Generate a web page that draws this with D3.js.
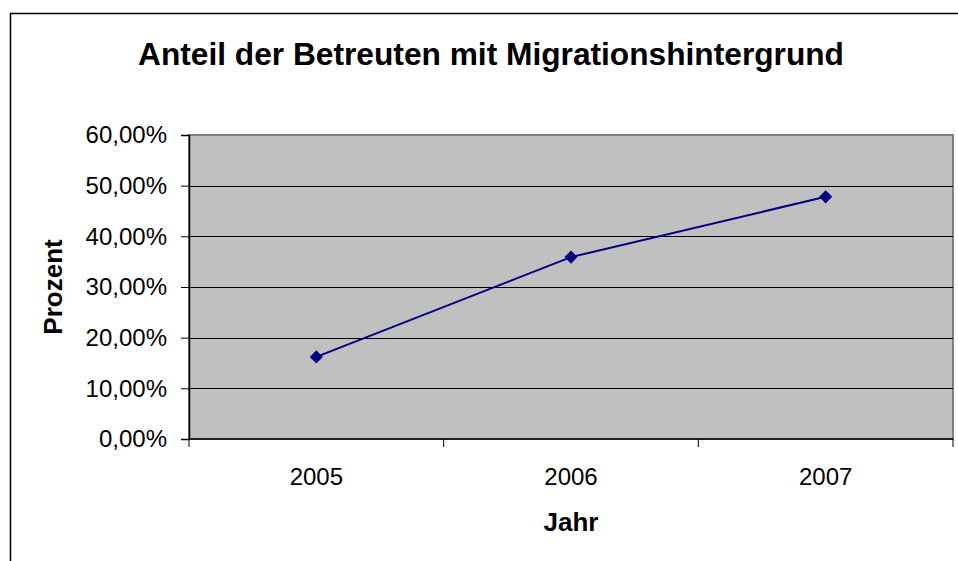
<!DOCTYPE html>
<html>
<head>
<meta charset="utf-8">
<script src="https://cdn.jsdelivr.net/npm/d3@7"></script>
<style>
  body { margin: 0; background: #fff; }
  svg { display: block; font-family: "Liberation Sans", Arial, sans-serif; }
</style>
</head>
<body>
<div class="canvas"></div>
<script>
const years = ["2005", "2006", "2007"];
const shares = [0.162, 0.359, 0.478];
const yTicks = [0, 0.1, 0.2, 0.3, 0.4, 0.5, 0.6];

const dims = {width: 958, height: 561};
const plot = {left: 189, top: 135, right: 953, bottom: 439};

const svg = d3.select(".canvas")
  .append("svg")
  .attr("width", dims.width)
  .attr("height", dims.height);

// outer chart frame (runs off the right and bottom edges)
svg.append("rect")
  .attr("x", 10.5).attr("y", 13.5)
  .attr("width", 1000).attr("height", 600)
  .attr("fill", "#fff").attr("stroke", "#000").attr("stroke-width", 1.5);

const x = d3.scaleBand().domain(years).range([plot.left, plot.right]);
const y = d3.scaleLinear().domain([0, 0.6]).range([plot.bottom, plot.top]);

// plot background
svg.append("rect")
  .attr("x", plot.left).attr("y", plot.top)
  .attr("width", plot.right - plot.left).attr("height", plot.bottom - plot.top)
  .attr("fill", "#c0c0c0")
  .attr("stroke", "#808080").attr("stroke-width", 2);

// gridlines
svg.append("g")
  .selectAll("line")
  .data(yTicks.filter(t => t > 0 && t < 0.6))
  .join("line")
  .attr("x1", plot.left).attr("x2", plot.right)
  .attr("y1", d => Math.round(y(d)) + 0.5).attr("y2", d => Math.round(y(d)) + 0.5)
  .attr("stroke", "#000").attr("stroke-width", 1);

const fmt = d => d3.format(".2f")(d * 100).replace(".", ",") + "%";

// y axis
const yAxis = svg.append("g")
  .attr("transform", `translate(${plot.left},0)`)
  .call(d3.axisLeft(y).tickValues(yTicks).tickFormat(fmt).tickSize(8).tickPadding(14));
yAxis.select(".domain").attr("stroke", "#000").attr("stroke-width", 1.5);
yAxis.selectAll("line").attr("stroke", "#000");
yAxis.selectAll("text").attr("font-size", 24).attr("fill", "#000")
  .attr("font-family", "Liberation Sans, Arial, sans-serif");

// x axis with ticks on category boundaries
const xAxis = svg.append("g")
  .attr("transform", `translate(0,${plot.bottom})`);
xAxis.append("line")
  .attr("x1", plot.left).attr("x2", plot.right)
  .attr("stroke", "#000").attr("stroke-width", 1.5);
const bounds = years.map(d => x(d)).concat([x(years[years.length - 1]) + x.bandwidth()]);
xAxis.selectAll(".tick")
  .data(bounds)
  .join("line")
  .attr("x1", d => d).attr("x2", d => d)
  .attr("y1", 0).attr("y2", 8)
  .attr("stroke", "#000");
xAxis.selectAll(".lbl")
  .data(years)
  .join("text")
  .attr("x", d => x(d) + x.bandwidth() / 2)
  .attr("y", 46)
  .attr("text-anchor", "middle")
  .attr("font-size", 24)
  .text(d => d);

// line + markers
const line = d3.line()
  .x((d, i) => x(years[i]) + x.bandwidth() / 2)
  .y(d => y(d));

svg.append("path")
  .datum(shares)
  .attr("d", line)
  .attr("fill", "none")
  .attr("stroke", "#000080")
  .attr("stroke-width", 2);

svg.append("g")
  .selectAll("path")
  .data(shares)
  .join("path")
  .attr("d", d3.symbol().type(d3.symbolDiamond2).size(110))
  .attr("transform", (d, i) => `translate(${x(years[i]) + x.bandwidth() / 2},${y(d)})`)
  .attr("fill", "#000080");

// titles
svg.append("text")
  .attr("x", 491).attr("y", 65)
  .attr("text-anchor", "middle")
  .attr("font-size", 31.7).attr("font-weight", "bold")
  .text("Anteil der Betreuten mit Migrationshintergrund");

svg.append("text")
  .attr("transform", `translate(62,${(plot.top + plot.bottom) / 2}) rotate(-90)`)
  .attr("text-anchor", "middle")
  .attr("font-size", 26).attr("font-weight", "bold")
  .text("Prozent");

svg.append("text")
  .attr("x", 571).attr("y", 531)
  .attr("text-anchor", "middle")
  .attr("font-size", 26).attr("font-weight", "bold")
  .text("Jahr");
</script>
</body>
</html>
